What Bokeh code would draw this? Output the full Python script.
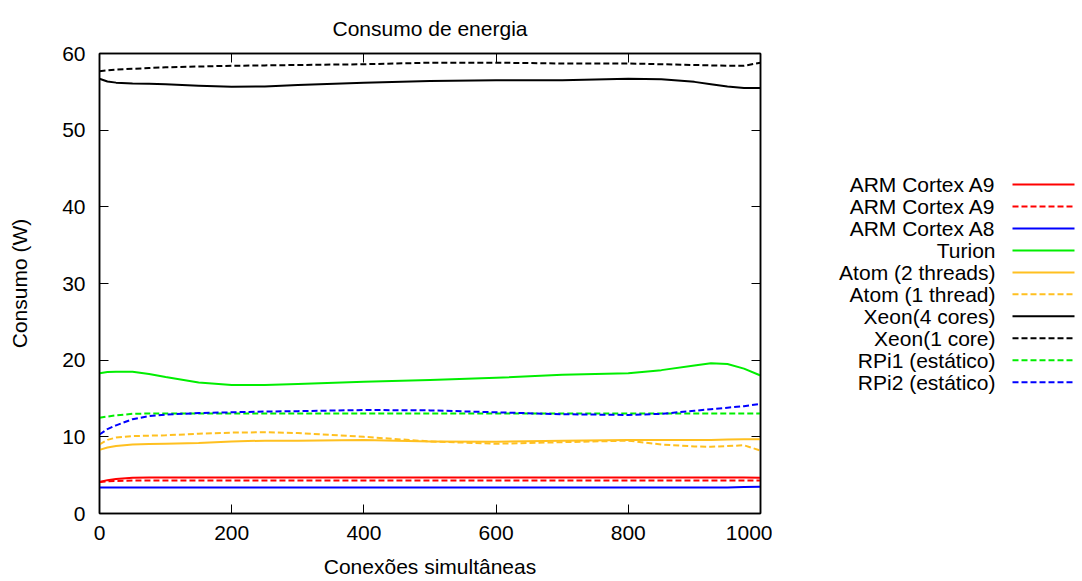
from bokeh.plotting import figure
from bokeh.models import Range1d, LinearAxis, FixedTicker, ColumnDataSource
from bokeh.layouts import row
from bokeh.embed import file_html
from bokeh.resources import INLINE
from bokeh.core.properties import value

FONT = "Liberation Sans"
FS = "21px"

# ---- data ----
x_cols = [0, 12, 25, 50, 75, 100, 150, 200, 250, 300, 400, 500, 600, 700, 800, 850, 900, 925, 950, 975, 1000]

arm_a9 = [4.1, 4.35, 4.5, 4.65, 4.7, 4.7, 4.7, 4.7, 4.7, 4.7, 4.7, 4.7, 4.7, 4.7, 4.7, 4.7, 4.7, 4.7, 4.7, 4.7, 4.65]
arm_a9_b = [4.1, 4.2, 4.25, 4.3, 4.3, 4.3, 4.3, 4.3, 4.3, 4.3, 4.3, 4.3, 4.3, 4.3, 4.3, 4.3, 4.3, 4.3, 4.3, 4.3, 4.3]
arm_a8 = [3.4, 3.4, 3.4, 3.4, 3.4, 3.4, 3.4, 3.4, 3.4, 3.4, 3.4, 3.4, 3.4, 3.4, 3.4, 3.4, 3.4, 3.4, 3.4, 3.45, 3.5]
turion = [18.3, 18.45, 18.5, 18.5, 18.2, 17.8, 17.1, 16.75, 16.75, 16.9, 17.2, 17.4, 17.7, 18.1, 18.3, 18.7, 19.3, 19.6, 19.5, 18.9, 18.0]
atom2 = [8.3, 8.6, 8.8, 9.0, 9.05, 9.1, 9.2, 9.4, 9.5, 9.5, 9.6, 9.4, 9.35, 9.5, 9.6, 9.6, 9.6, 9.6, 9.65, 9.7, 9.7]
atom1 = [9.0, 9.6, 9.9, 10.1, 10.15, 10.2, 10.4, 10.55, 10.6, 10.5, 10.0, 9.4, 9.1, 9.3, 9.5, 9.0, 8.75, 8.7, 8.8, 8.9, 8.2]
xeon4 = [56.7, 56.35, 56.2, 56.1, 56.05, 56.0, 55.8, 55.65, 55.7, 55.9, 56.2, 56.4, 56.5, 56.5, 56.7, 56.65, 56.3, 56.0, 55.7, 55.5, 55.5]
xeon1 = [57.7, 57.8, 57.9, 58.0, 58.1, 58.2, 58.3, 58.4, 58.45, 58.5, 58.6, 58.8, 58.8, 58.7, 58.7, 58.6, 58.5, 58.45, 58.4, 58.4, 58.8]
rpi1 = [12.5, 12.65, 12.8, 13.0, 13.05, 13.05, 13.05, 13.05, 13.05, 13.05, 13.05, 13.05, 13.05, 13.05, 13.05, 13.05, 13.05, 13.05, 13.05, 13.05, 13.05]
rpi2 = [10.3, 11.0, 11.5, 12.3, 12.7, 12.9, 13.1, 13.2, 13.3, 13.35, 13.5, 13.45, 13.2, 12.95, 12.85, 13.0, 13.4, 13.6, 13.8, 14.0, 14.3]

labels = ["ARM Cortex A9", "ARM Cortex A9", "ARM Cortex A8", "Turion",
          "Atom (2 threads)", "Atom (1 thread)", "Xeon(4 cores)", "Xeon(1 core)",
          "RPi1 (estático)", "RPi2 (estático)"]
series = [arm_a9, arm_a9_b, arm_a8, turion, atom2, atom1, xeon4, xeon1, rpi1, rpi2]
colors = ["#ff0000", "#ff0000", "#0000ff", "#00ee00", "#ffc020", "#ffc020",
          "#000000", "#000000", "#00ee00", "#0000ff"]
dashes = ["solid", "6 3", "solid", "solid", "solid", "6 3", "solid", "6 3", "6 3", "6 3"]

x_ticks = [0, 200, 400, 600, 800, 1000]
y_ticks = [0, 10, 20, 30, 40, 50, 60]

# ---- main plot ----
p = figure(width=772, height=581, output_backend="svg", toolbar_location=None,
           x_range=Range1d(0, 1000), y_range=Range1d(0, 60),
           min_border_left=99, min_border_right=12, min_border_top=53, min_border_bottom=68)
p.background_fill_color = "white"
p.border_fill_color = "white"
p.outline_line_color = "black"
p.outline_line_width = 1.5
p.xgrid.visible = False
p.ygrid.visible = False

p.title.text = "Consumo de energia"
p.title.align = "center"
p.title.text_font = FONT
p.title.text_font_size = FS
p.title.text_font_style = "normal"
p.title.text_color = "black"
p.title.text_line_height = 1.0
p.title.standoff = 28

for ax in (p.xaxis[0], p.yaxis[0]):
    ax.major_tick_in = 9
    ax.major_tick_out = 0
    ax.minor_tick_line_color = None
    ax.axis_line_color = "black"
    ax.axis_line_width = 1.5
    ax.major_tick_line_width = 1
    ax.major_tick_line_color = "black"
    ax.major_label_text_font = FONT
    ax.major_label_text_font_size = FS
    ax.major_label_text_color = "black"
    ax.axis_label_text_font = FONT
    ax.axis_label_text_font_size = FS
    ax.axis_label_text_font_style = "normal"
    ax.axis_label_text_color = "black"

p.xaxis[0].ticker = FixedTicker(ticks=x_ticks)
p.yaxis[0].ticker = FixedTicker(ticks=y_ticks)
p.xaxis[0].axis_label = "Conexões simultâneas"
p.yaxis[0].axis_label = "Consumo (W)"
p.xaxis[0].major_label_standoff = 12
p.xaxis[0].axis_label_standoff = 12
p.yaxis[0].major_label_standoff = 14
p.yaxis[0].axis_label_standoff = 28

top_ax = LinearAxis(ticker=FixedTicker(ticks=x_ticks))
right_ax = LinearAxis(ticker=FixedTicker(ticks=y_ticks))
for ax in (top_ax, right_ax):
    ax.major_tick_in = 9
    ax.major_tick_out = 0
    ax.minor_tick_line_color = None
    ax.axis_line_color = "black"
    ax.axis_line_width = 1.5
    ax.major_tick_line_color = "black"
    ax.major_label_text_font_size = "0px"
    ax.major_label_standoff = 0
p.add_layout(top_ax, "above")
p.add_layout(right_ax, "right")

for ys, c, d in zip(series, colors, dashes):
    p.line(x_cols, ys, line_color=c, line_width=2, line_dash=d, line_join="round")

# ---- legend panel (gnuplot-style: text right, sample on the right) ----
# row() aligns this panel's frame with the main frame, so its y range is
# expressed in page pixels between the frame's top (53) and bottom (513).
lg = figure(width=310, height=581, output_backend="svg", toolbar_location=None,
            x_range=Range1d(0, 310), y_range=Range1d(513, 53),
            x_axis_type=None, y_axis_type=None,
            min_border_left=0, min_border_right=0, min_border_top=0, min_border_bottom=0)
lg.outline_line_color = None
lg.xgrid.visible = False
lg.ygrid.visible = False
lg.background_fill_color = "white"
lg.border_fill_color = "white"

row_y = [184 + 21.97 * i for i in range(len(labels))]
src = ColumnDataSource(dict(x=[223] * len(labels), y=row_y, t=labels))
lg.text(x="x", y="y", text="t", source=src, text_align="right", text_baseline="middle",
        text_font=value(FONT), text_font_size=FS, text_color="black")
for yy, c, d in zip(row_y, colors, dashes):
    lg.line([240, 302], [yy, yy], line_color=c, line_width=2, line_dash=d)

layout = row(p, lg)
open("out.html", "w").write(file_html(layout, INLINE))
